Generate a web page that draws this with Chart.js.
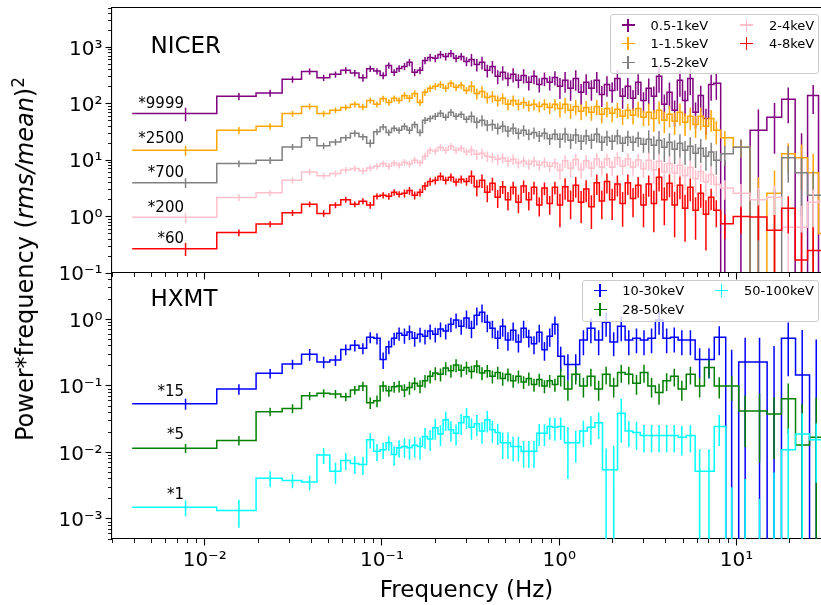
<!DOCTYPE html>
<html><head><meta charset="utf-8">
<script src="https://cdn.jsdelivr.net/npm/chart.js@4.4.1/dist/chart.umd.min.js"></script>
<style>
html,body{margin:0;padding:0;background:#fff;}
#fig{position:relative;width:821px;height:605px;overflow:hidden;font-family:"DejaVu Sans",sans-serif;color:#000;background:#fff;}
#fig canvas{position:absolute;left:0;top:0;}
.t{position:absolute;line-height:1;white-space:nowrap;}
.leg{position:absolute;border:1px solid #cccccc;border-radius:3px;background:rgba(255,255,255,0.8);box-sizing:border-box;}
.mk{position:absolute;width:13px;height:13px;}
.mk i{position:absolute;display:block;}
</style></head>
<body>
<div id="fig">
<canvas id="cTop" width="821" height="605"></canvas>
<canvas id="cBot" width="821" height="605"></canvas>
</div>
<script>
// ---------------- DATA ----------------
const X_MIN = 0.003, X_MAX = 30;
const X_MAJOR = [0.01, 0.1, 1, 10];
const X_LABELS = ['10⁻²', '10⁻¹', '10⁰', '10¹'];

const NICER_Y_MIN = 0.1, NICER_Y_MAX = 5000;
const NICER_Y_MAJOR = [0.1, 1, 10, 100, 1000];
const NICER_Y_LABELS = ['10⁻¹', '10⁰', '10¹', '10²', '10³'];
const HXMT_Y_MIN = 5e-4, HXMT_Y_MAX = 5;
const HXMT_Y_MAJOR = [0.001, 0.01, 0.1, 1];
const HXMT_Y_LABELS = ['10⁻³', '10⁻²', '10⁻¹', '10⁰'];

const NICER_NAMES = ['0.5-1keV', '1-1.5keV', '1.5-2keV', '2-4keV', '4-8keV'];
const NICER_FACTORS = ['*9999', '*2500', '*700', '*200', '*60'];
const HXMT_NAMES = ['10-30keV', '28-50keV', '50-100keV'];
const HXMT_FACTORS = ['*15', '*5', '*1'];

// bin centre frequencies (Hz)
const NICER_FREQ = [0.0078,0.0156,0.0234,0.0313,0.0391,0.0469,0.0547,0.0625,0.0703,0.0781,0.0859,0.0938,0.1016,0.1094,0.1172,0.125,
 0.134,0.143,0.153,0.164,0.175,0.187,0.2,0.214,0.229,0.245,0.262,0.28,0.3,
 0.32,0.343,0.367,0.393,0.42,0.45,0.48,0.514,0.55,0.589,0.63,0.674,0.721,0.772,0.826,0.884,0.946,
 1.01,1.08,1.16,1.24,1.33,1.42,1.52,1.63,1.74,1.86,1.99,2.13,2.28,2.44,2.61,2.79,2.99,
 3.2,3.42,3.66,3.92,4.19,4.48,4.8,5.13,5.49,5.88,6.29,6.73,7.2,7.7,
 8.6,10.6,13.3,16.4,19.6,23.3,27.1,31];

const N05_VAL = [67,136,155,272,376,291,333,392,351,291,420,380,319,480,361,425,
 461,543,361,392,589,665,640,752,693,783,640,693,565,
 613,500,543,392,461,307,361,282,333,261,319,240,307,221,282,240,294,
 204,261,188,282,160,240,188,261,147,221,173,282,136,204,125,240,115,
 188,136,307,98,160,77,261,115,282,71,141,55,221,231,
 -20,-10,34,58,120,-30,141,-20];
const N05_ERR = [18,20,22,35,49,38,43,51,46,44,55,49,45,62,51,60,
 69,81,54,59,88,100,96,113,104,117,96,104,102,
 154,126,137,99,116,85,101,78,94,73,90,67,85,62,78,67,83,
 82,104,75,112,64,96,75,104,59,88,69,112,54,82,50,96,46,
 92,67,150,48,78,38,127,56,139,35,69,27,108,113,
 30,33,45,45,75,60,75,40];

const N10_VAL = [15,34,40,67,90,67,77,86,98,88,115,98,124,106,125,115,
 141,125,153,106,160,188,204,221,188,231,196,213,173,
 204,153,166,130,136,115,125,98,115,98,106,94,98,90,98,86,98,
 83,98,77,90,74,86,71,90,65,83,68,80,60,77,63,83,58,
 71,55,77,51,65,49,71,47,60,43,60,40,55,34,
 25,17,-5,2.6,13,11,6,0.5];
const N10_ERR = [3,4.8,5.2,8,11,8,9,10,12,11,14,12,15,14,16,15,
 20,18,21,15,22,26,29,31,26,32,27,30,24,
 46,34,38,29,31,25,28,22,25,22,24,21,22,20,22,20,22,
 26,30,23,27,23,26,21,27,20,26,21,24,18,23,20,26,18,
 30,23,33,21,27,21,30,20,26,18,26,17,23,15,
 8,6,10,4,7,8,7,3];

const N15_VAL = [4.0,8.7,10,17.2,25,18,21,25,30,26,20,32,39,31,37,34,
 40,34,43,31,51,55,60,68,58,71,60,65,53,
 60,47,51,42,43,37,40,33,37,30,34,29,31,27,30,24,29,
 23.5,29,22.6,28,21.7,27,22.6,29,20.8,25.6,21.7,27,20,25.6,20.8,24.5,19.2,
 23.5,18.4,22.6,17,20.8,15.6,20,15,17.6,13.3,16.3,11.8,14,10,
 13,17,-3,-2,11,6,2.4,2.4];
const N15_ERR = [0.8,1.2,1.4,2.2,3.2,2.3,2.7,3.2,3.9,3.4,3.2,4.2,5,4,4.8,4.4,
 5.6,4.8,6,4.3,7.1,7.7,8.4,9.5,8.1,9.9,8.4,9.1,7.4,
 13.4,10.5,11.5,9.4,9.7,8.3,9,7.4,8.3,6.7,7.6,6.4,7,6,6.7,5.3,6.4,
 7,8.7,6.8,8.4,6.5,8.1,6.8,8.7,6.3,7.7,6.5,8.1,6,7.7,6.3,7.4,5.7,
 10.5,8.3,10.2,7.7,9.3,7,9,6.8,8,6,7.4,5.3,6.3,4.5,
 5,6,6,5,7,5,4,4];

const N2_VAL = [0.97,2.19,2.64,4.43,6.2,5.3,5.8,6.7,7.1,6.5,7.3,7.8,8.7,7.8,8.9,8.2,
 9.2,8.6,10,8.9,11.8,15,14.5,17,15,17.6,15,16.3,14,
 15,12.8,13.3,11.8,11.3,10.4,10.9,9.6,10.4,8.9,9.6,8.6,9.6,8.2,9.2,7.8,8.9,
 6.6,9.8,7.2,10.4,6.8,9.8,7.2,10.6,7.5,10.6,7.5,11,7.8,10.6,7.5,10.2,7.0,
 10,6.7,9.6,6.2,8.7,5.9,8.1,5.3,7.4,4.7,6.3,4.1,5.6,3.7,
 3.2,2.6,2.0,2.2,0.65,0.65,1.8,1.9];
const N2_ERR = [0.2,0.3,0.35,0.55,0.8,0.7,0.75,0.85,0.9,0.85,0.95,1.0,1.1,1.0,1.15,1.05,
 1.3,1.2,1.4,1.2,1.7,2.1,2,2.4,2.1,2.5,2.1,2.3,2,
 3.1,2.6,2.7,2.5,2.3,2.2,2.2,2,2.2,1.8,2,1.8,2,1.7,2,1.6,1.8,
 2.1,2.5,2.2,2.5,2.1,2.5,2.2,2.7,2.2,2.7,2.2,2.8,2.4,2.7,2.2,2.5,2.2,
 3.5,2.9,3.4,2.7,3.1,2.5,2.8,2.4,2.5,2.1,2.2,1.8,2,1.5,
 1.2,1.2,1.2,1.4,0.9,0.9,1.2,1.3];

const N4_VAL = [0.27,0.52,0.74,1.17,1.66,1.14,1.6,2.0,1.66,1.88,1.6,2.3,2.4,2.3,2.7,2.5,
 2.6,2.9,2.4,2.7,3.5,4.2,4.4,5.2,4.4,5.0,4.1,4.6,4.2,
 5.2,3.4,4.4,2.7,3.9,2.2,3.4,2.0,3.3,1.8,3.5,2.0,3.3,1.6,3.2,1.7,3.3,
 1.6,3.4,1.9,3.6,1.8,3.1,1.5,4.0,1.9,4.2,2.0,3.8,1.7,4.0,2.1,3.6,1.6,
 3.8,1.7,5.0,2.0,3.9,1.6,3.6,1.4,3.3,1.3,2.6,1.1,2.2,1.3,
 0.75,1.0,0.98,0.57,1.4,0.17,0.25,0.25];
const N4_ERR = [0.07,0.07,0.09,0.14,0.2,0.15,0.2,0.24,0.2,0.23,0.22,0.28,0.3,0.3,0.35,0.32,
 0.42,0.46,0.38,0.43,0.56,0.67,0.7,0.83,0.7,0.8,0.66,0.74,0.67,
 1.38,1.12,1.17,0.91,1,0.78,0.88,0.72,0.83,0.65,0.88,0.72,0.83,0.6,0.81,0.62,0.83,
 0.95,1.4,1,1.44,1.04,1.3,0.9,1.58,1,1.62,1.13,1.53,1.04,1.58,1.13,1.44,0.95,
 1.56,1.17,2.2,1.3,1.7,1.17,1.56,1.04,1.43,0.91,1.17,0.85,0.91,0.65,
 0.35,0.5,0.6,0.5,0.9,0.35,0.4,0.4];

const HXMT_FREQ = [0.0078,0.0156,0.0234,0.0313,0.0391,0.0469,0.0547,0.0625,0.0703,0.0781,0.0859,0.0938,0.1016,0.1094,0.1172,0.125,
 0.134,0.143,0.153,0.164,0.175,0.187,0.2,0.214,0.229,0.245,0.262,0.28,
 0.3,0.32,0.343,0.367,0.393,0.42,0.45,0.48,0.514,0.55,0.589,0.63,0.674,0.721,0.772,0.826,0.884,0.946,
 1.02,1.12,1.24,1.37,1.51,1.67,1.84,2.03,2.24,2.47,2.73,3.01,3.32,3.66,4.04,4.46,4.92,5.5,6.2,7.0,8.0,
 9.4,11.2,13.5,16.3,19.6,23.5,28.2,33];

const H10_VAL = [0.054,0.090,0.155,0.214,0.30,0.23,0.245,0.355,0.41,0.37,0.54,0.52,0.25,0.39,0.52,0.62,
 0.58,0.65,0.52,0.60,0.56,0.67,0.60,0.72,0.67,0.85,0.98,0.79,
 1.05,0.74,1.16,1.29,0.91,0.74,0.52,0.79,0.49,0.69,0.46,0.74,0.54,0.43,0.64,0.35,0.56,0.85,
 0.28,0.21,0.21,0.49,0.74,0.49,0.91,0.46,0.79,0.49,0.52,0.49,0.52,0.98,0.52,0.54,0.49,0.49,0.25,0.25,0.54,
 -0.05,0.23,0.23,-0.1,0.52,0.146,-0.1,-0.1];
const H10_ERR = [0.01,0.016,0.025,0.035,0.06,0.045,0.045,0.065,0.08,0.07,0.1,0.1,0.07,0.09,0.11,0.14,
 0.15,0.16,0.13,0.15,0.14,0.17,0.15,0.18,0.17,0.21,0.25,0.2,
 0.32,0.22,0.35,0.39,0.27,0.22,0.16,0.24,0.15,0.21,0.14,0.22,0.16,0.13,0.19,0.11,0.17,0.26,
 0.11,0.09,0.09,0.2,0.3,0.2,0.36,0.18,0.32,0.2,0.21,0.2,0.21,0.39,0.21,0.22,0.2,0.2,0.12,0.12,0.25,
 0.4,0.3,0.3,0.5,0.38,0.55,0.6,0.3];

const H28_VAL = [0.0116,0.0152,0.041,0.046,0.071,0.078,0.076,0.069,0.087,0.10,0.056,0.060,0.10,0.085,0.097,0.10,
 0.087,0.095,0.11,0.10,0.12,0.14,0.157,0.15,0.186,0.17,0.207,0.173,
 0.19,0.165,0.2,0.157,0.17,0.14,0.16,0.13,0.15,0.12,0.14,0.115,0.13,0.105,0.125,0.1,0.12,0.105,
 0.14,0.09,0.15,0.1,0.14,0.09,0.15,0.1,0.16,0.15,0.11,0.16,0.1,0.08,0.12,0.14,0.09,0.15,0.1,0.19,0.1,
 0.1,0.042,0.042,0.038,0.064,0.013,0.017,0.017];
const H28_ERR = [0.0018,0.0025,0.006,0.007,0.01,0.011,0.011,0.01,0.013,0.016,0.011,0.012,0.018,0.016,0.018,0.02,
 0.019,0.021,0.024,0.022,0.026,0.031,0.035,0.033,0.041,0.037,0.046,0.038,
 0.042,0.036,0.044,0.035,0.037,0.031,0.035,0.029,0.033,0.026,0.031,0.025,0.029,0.023,0.028,0.022,0.026,0.023,
 0.042,0.03,0.045,0.033,0.042,0.03,0.045,0.033,0.048,0.045,0.036,0.048,0.033,0.028,0.036,0.042,0.03,0.045,0.033,0.057,0.035,
 0.04,0.03,0.035,0.03,0.045,0.04,0.05,0.05];

const H50_VAL = [0.0015,0.00134,0.0041,0.0038,0.0036,0.0092,0.0052,0.0076,0.0068,0.0066,0.0155,0.0104,0.011,0.014,0.0093,0.0118,
 0.0123,0.0118,0.0128,0.0123,0.0174,0.016,0.0236,0.019,0.031,0.022,0.0195,0.028,
 0.0346,0.024,0.027,0.021,0.031,0.022,0.02,0.014,0.014,0.0123,0.0123,0.0104,0.0104,0.0104,0.0195,0.0195,0.0245,0.024,
 0.0245,0.014,0.014,0.021,0.024,0.028,0.0055,0.0055,0.039,0.021,0.02,0.018,0.018,0.018,0.018,0.018,0.017,0.018,0.0052,0.0052,0.0245,
 -0.005,-0.005,-0.01,-0.005,0.011,0.019,0.0155,0.0155];
const H50_ERR = [0.0004,0.0006,0.0011,0.0009,0.0009,0.0025,0.0018,0.0022,0.002,0.002,0.004,0.003,0.003,0.0035,0.003,0.0035,
 0.004,0.004,0.0045,0.0045,0.006,0.0055,0.008,0.0065,0.01,0.0075,0.0068,0.0095,
 0.012,0.0085,0.0095,0.0075,0.011,0.008,0.007,0.006,0.006,0.005,0.005,0.0045,0.0045,0.0045,0.007,0.007,0.009,0.009,
 0.009,0.01,0.007,0.009,0.011,0.012,0.006,0.007,0.025,0.009,0.009,0.008,0.008,0.008,0.008,0.008,0.008,0.008,0.006,0.006,0.012,
 0.008,0.009,0.012,0.01,0.012,0.02,0.012,0.012];

// ---------------- STYLE / LAYOUT ----------------
const FONT = 'DejaVu Sans';
const NICER_COLORS = ['#800080', '#ffa500', '#808080', '#ffc0cb', '#ff0000'];
const HXMT_COLORS = ['#0000ff', '#008000', '#00ffff'];
const LINE_W = 1.5;

Chart.defaults.font.family = FONT;

function edgesOf(c) {
  const n = c.length, e = [c[0] - (c[1] - c[0]) / 2];
  for (let i = 1; i < n; i++) e.push((c[i - 1] + c[i]) / 2);
  e.push(c[n - 1] + (c[n - 1] - c[n - 2]) / 2);
  return e;
}
function stepData(freq, val, floor) {
  const e = edgesOf(freq);
  const d = val.map((v, i) => ({x: e[i], y: v > 0 ? v : floor}));
  const last = val[val.length - 1];
  d.push({x: e[e.length - 1], y: last > 0 ? last : floor});
  return d;
}
function errData(freq, val, err, floor) {
  const d = [];
  freq.forEach((f, i) => {
    const hi = val[i] + err[i];
    if (!(hi > 0)) return;
    const lo = val[i] - err[i];
    d.push({x: f, y: lo > 0 ? lo : floor}, {x: f, y: hi}, {x: f, y: null});
  });
  return d;
}
function minorTicks(min, max) {
  const out = [];
  for (let e = Math.floor(Math.log10(min)) - 1; e <= Math.ceil(Math.log10(max)); e++) {
    for (let m = 2; m <= 9; m++) {
      const v = m * Math.pow(10, e);
      if (v >= min * 0.9999 && v <= max * 1.0001) out.push({value: v});
    }
  }
  return out;
}
function zeroPad(s) { s.paddingLeft = 0; s.paddingRight = 0; s.paddingTop = 0; s.paddingBottom = 0; }

function buildPanel(id, p) {
  const floor = p.yMin / 1e4;
  const datasets = [];
  p.series.forEach((s, i) => {
    datasets.push({label: s.label, data: stepData(p.freq, s.val, floor), borderColor: s.color, backgroundColor: s.color,
      borderWidth: LINE_W, pointRadius: 0, pointHoverRadius: 0, stepped: 'before', tension: 0, fill: false, order: 100 - 2 * i});
    datasets.push({label: s.label + ' error', data: errData(p.freq, s.val, s.err, floor), borderColor: s.color, backgroundColor: s.color,
      borderWidth: LINE_W, pointRadius: 0, pointHoverRadius: 0, tension: 0, fill: false, spanGaps: false, order: 99 - 2 * i});
  });
  const tickFont = {family: FONT, size: 20};
  const scales = {
    x: {type: 'logarithmic', position: 'bottom', min: X_MIN, max: X_MAX, weight: 2,
      afterBuildTicks: s => { s.ticks = X_MAJOR.map(v => ({value: v, major: true})); },
      afterFit: s => { s.height = p.xHeight; zeroPad(s); },
      ticks: {display: p.xLabels, autoSkip: false, maxRotation: 0, minRotation: 0, padding: 3, color: '#000', font: tickFont,
        callback: (v, i) => X_LABELS[i]},
      grid: {display: true, drawOnChartArea: false, drawTicks: true, tickLength: 6.5, tickWidth: 1.1, tickColor: '#000'},
      border: {display: true, color: '#000', width: 1.1},
      title: {display: p.xLabels, text: 'Frequency (Hz)', color: '#000', font: {family: FONT, size: 23}, padding: {top: 0, bottom: 0}}
    },
    xMinor: {type: 'logarithmic', position: 'bottom', min: X_MIN, max: X_MAX, weight: 0,
      afterBuildTicks: s => { s.ticks = minorTicks(X_MIN, X_MAX); },
      afterFit: s => { s.height = 0; zeroPad(s); },
      ticks: {display: false, autoSkip: false},
      grid: {display: true, drawOnChartArea: false, drawTicks: true, tickLength: 4, tickWidth: 0.9, tickColor: '#000'},
      border: {display: false}
    },
    xTop: {type: 'logarithmic', position: 'top', min: X_MIN, max: X_MAX,
      afterFit: s => { s.height = 0; zeroPad(s); },
      ticks: {display: false},
      grid: {display: false, drawTicks: false},
      border: {display: true, color: '#000', width: 1.1}
    },
    y: {type: 'logarithmic', position: 'left', min: p.yMin, max: p.yMax, weight: 2,
      afterBuildTicks: s => { s.ticks = p.yMajor.map(v => ({value: v, major: true})); },
      afterFit: s => { s.width = 112; zeroPad(s); },
      ticks: {display: true, autoSkip: false, padding: 3, color: '#000', font: tickFont, labelOffset: 2,
        callback: (v, i) => p.yLabels[i]},
      grid: {display: true, drawOnChartArea: false, drawTicks: true, tickLength: 6.5, tickWidth: 1.1, tickColor: '#000'},
      border: {display: true, color: '#000', width: 1.1}
    },
    yMinor: {type: 'logarithmic', position: 'left', min: p.yMin, max: p.yMax, weight: 0,
      afterBuildTicks: s => { s.ticks = minorTicks(p.yMin, p.yMax); },
      afterFit: s => { s.width = 0; zeroPad(s); },
      ticks: {display: false, autoSkip: false},
      grid: {display: true, drawOnChartArea: false, drawTicks: true, tickLength: 4, tickWidth: 0.9, tickColor: '#000'},
      border: {display: false}
    }
  };
  return new Chart(document.getElementById(id), {
    type: 'line',
    data: {datasets},
    options: {
      responsive: false, maintainAspectRatio: false, animation: false, devicePixelRatio: 1, events: [],
      layout: {padding: {left: 0, right: 0, top: p.padTop, bottom: p.padBottom}, autoPadding: false},
      plugins: {legend: {display: false}, tooltip: {enabled: false}, title: {display: false}},
      scales
    }
  });
}

buildPanel('cTop', {
  freq: NICER_FREQ, yMin: NICER_Y_MIN, yMax: NICER_Y_MAX, yMajor: NICER_Y_MAJOR, yLabels: NICER_Y_LABELS,
  padTop: 8, padBottom: 322, xHeight: 10, xLabels: false,
  series: [
    {label: NICER_NAMES[0], color: NICER_COLORS[0], val: N05_VAL, err: N05_ERR},
    {label: NICER_NAMES[1], color: NICER_COLORS[1], val: N10_VAL, err: N10_ERR},
    {label: NICER_NAMES[2], color: NICER_COLORS[2], val: N15_VAL, err: N15_ERR},
    {label: NICER_NAMES[3], color: NICER_COLORS[3], val: N2_VAL, err: N2_ERR},
    {label: NICER_NAMES[4], color: NICER_COLORS[4], val: N4_VAL, err: N4_ERR}
  ]
});
buildPanel('cBot', {
  freq: HXMT_FREQ, yMin: HXMT_Y_MIN, yMax: HXMT_Y_MAX, yMajor: HXMT_Y_MAJOR, yLabels: HXMT_Y_LABELS,
  padTop: 273, padBottom: 0, xHeight: 66, xLabels: true,
  series: [
    {label: HXMT_NAMES[0], color: HXMT_COLORS[0], val: H10_VAL, err: H10_ERR},
    {label: HXMT_NAMES[1], color: HXMT_COLORS[1], val: H28_VAL, err: H28_ERR},
    {label: HXMT_NAMES[2], color: HXMT_COLORS[2], val: H50_VAL, err: H50_ERR}
  ]
});

// ---------------- TEXT OVERLAYS ----------------
const fig = document.getElementById('fig');
function addText(html, css) {
  const d = document.createElement('div');
  d.className = 't';
  d.innerHTML = html;
  Object.assign(d.style, css);
  fig.appendChild(d);
  return d;
}
addText('NICER', {left: '150.5px', top: '34.3px', fontSize: '23px'});
addText('HXMT', {left: '150.5px', top: '287.3px', fontSize: '23px'});
const NICER_FACTOR_BASE = [108.3, 144, 177.3, 212.7, 243.3];
const HXMT_FACTOR_BASE = [396.7, 440, 499.3];
const FACTOR_RIGHT = 184, FACTOR_SIZE = 15;
NICER_FACTORS.forEach((t, i) => addText(t, {right: (821 - FACTOR_RIGHT) + 'px', top: (NICER_FACTOR_BASE[i] - 0.846 * FACTOR_SIZE) + 'px', fontSize: FACTOR_SIZE + 'px'}));
HXMT_FACTORS.forEach((t, i) => addText(t, {right: (821 - FACTOR_RIGHT) + 'px', top: (HXMT_FACTOR_BASE[i] - 0.846 * FACTOR_SIZE) + 'px', fontSize: FACTOR_SIZE + 'px'}));

addText('Power*frequency (<i>rms/mean</i>)<sup style="font-size:70%;vertical-align:0;position:relative;top:-0.55em">2</sup>',
  {left: '25px', top: '259px', fontSize: '24px', transform: 'translate(-50%,-50%) rotate(-90deg)', transformOrigin: '50% 50%'});

function addLegend(box, names, colors, slots) {
  const b = document.createElement('div');
  b.className = 'leg';
  Object.assign(b.style, {left: box.left + 'px', top: box.top + 'px', width: box.width + 'px', height: box.height + 'px'});
  fig.appendChild(b);
  names.forEach((n, i) => {
    const s = slots[i];
    const m = document.createElement('div');
    m.className = 'mk';
    Object.assign(m.style, {left: (s.mx - 6.5) + 'px', top: (s.y - 6.5) + 'px'});
    m.innerHTML = '<i style="left:0;top:5.75px;width:13px;height:1.5px;background:' + colors[i] + '"></i>' +
                  '<i style="left:5.75px;top:0;width:1.5px;height:13px;background:' + colors[i] + '"></i>';
    fig.appendChild(m);
    addText(n, {left: (s.tx - 1) + 'px', top: (s.y - 6.3) + 'px', fontSize: '13px'});
  });
}
addLegend({left: 610, top: 14, width: 209, height: 60}, NICER_NAMES, NICER_COLORS, [
  {mx: 628, tx: 651.5, y: 25}, {mx: 628, tx: 651.5, y: 43.5}, {mx: 628, tx: 651.5, y: 62.3},
  {mx: 746.7, tx: 770, y: 25}, {mx: 746.7, tx: 770, y: 43.5}
]);
addLegend({left: 582, top: 280, width: 237, height: 42}, HXMT_NAMES, HXMT_COLORS, [
  {mx: 600, tx: 623.3, y: 290.7}, {mx: 600, tx: 623.3, y: 309.3}, {mx: 721.7, tx: 745, y: 290.7}
]);
</script>
</body></html>
